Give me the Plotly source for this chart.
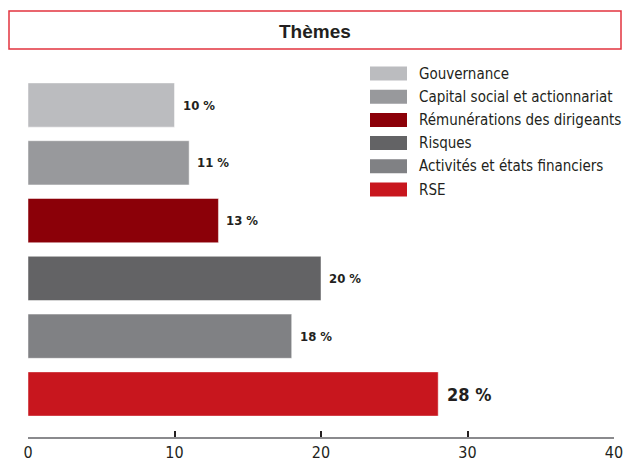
import plotly.graph_objects as go

categories = ["Gouvernance", "Capital social et actionnariat", "Rémunérations des dirigeants",
              "Risques", "Activités et états financiers", "RSE"]
values = [10, 11, 13, 20, 18, 28]
colors = ["#BBBCBF", "#98999C", "#8B0008", "#636365", "#808184", "#C8161E"]
value_labels = ["10 %", "11 %", "13 %", "20 %", "18 %", "28 %"]
x_ticks = [0, 10, 20, 30, 40]
title_text = "Thèmes"

FONT_N = "Liberation Sans Narrow, DejaVu Sans Condensed, Roboto, sans-serif"

W, H = 625, 462
L, R, T, B = 28, 11, 60, 25
pw, ph = W - L - R, H - T - B

def px(x):
    return (x - L) / pw

def py(y):
    return (H - B - y) / ph

fig = go.Figure()
fig.add_trace(go.Bar(
    x=values, y=categories, orientation="h",
    marker=dict(color=colors, line=dict(color="rgba(255,255,255,0.6)", width=0.8)),
    showlegend=False, hoverinfo="skip", width=0.765,
))

annotations = []
for i, (c, v, lab) in enumerate(zip(categories, values, value_labels)):
    big = (i == len(categories) - 1)
    annotations.append(dict(
        x=v, y=c, xref="x", yref="y", text="<b>" + lab + "</b>", showarrow=False,
        xanchor="left", yanchor="middle", xshift=6 if not big else 7,
        font=dict(family=FONT_N, size=18 if big else 13, color="#231F20"),
    ))

shapes = []
# title box
shapes.append(dict(type="rect", xref="paper", yref="paper",
                   x0=px(9), x1=px(621), y0=py(49), y1=py(11),
                   line=dict(color="#E2333F", width=1.5), fillcolor="white"))
annotations.append(dict(x=px(315), y=py(31), xref="paper", yref="paper",
                        text="<b>" + title_text + "</b>", showarrow=False,
                        xanchor="center", yanchor="middle",
                        font=dict(family="Liberation Sans, Arial", size=19, color="#231F20")))

# custom legend
leg_top = 73.5
leg_step = 23.2
for i, (c, col) in enumerate(zip(categories, colors)):
    yc = leg_top + i * leg_step
    shapes.append(dict(type="rect", xref="paper", yref="paper",
                       x0=px(370), x1=px(407), y0=py(yc + 7), y1=py(yc - 7),
                       line=dict(width=0), fillcolor=col))
    annotations.append(dict(x=px(417), y=py(yc), xref="paper", yref="paper",
                            text=c, showarrow=False, xanchor="left", yanchor="middle",
                            font=dict(family=FONT_N, size=15, color="#231F20")))

fig.update_layout(
    width=W, height=H,
    margin=dict(l=L, r=R, t=T, b=B, autoexpand=False),
    paper_bgcolor="white", plot_bgcolor="white",
    shapes=shapes, annotations=annotations,
    bargap=0.24,
    xaxis=dict(range=[0, 40], tickvals=x_ticks, ticks="inside", ticklen=6, tickwidth=2,
               tickcolor="#231F20", showline=True, linecolor="#8A8A8D", linewidth=2,
               showgrid=False, zeroline=False, automargin=False,
               tickfont=dict(family=FONT_N, size=16, color="#231F20")),
    yaxis=dict(range=[5.744, -0.779], showticklabels=False, showgrid=False, zeroline=False,
               showline=False, ticks="", automargin=False),
)

fig.write_html("out.html")
